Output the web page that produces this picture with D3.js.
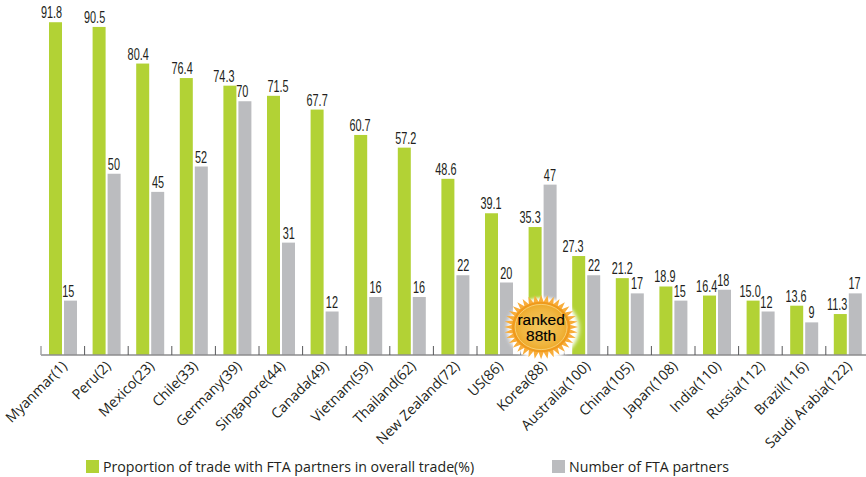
<!DOCTYPE html>
<html>
<head>
<meta charset="utf-8">
<script src="https://cdn.jsdelivr.net/npm/d3@7"></script>
<style>
  html, body { margin: 0; padding: 0; background: #fff; }
  svg { display: block; }
  text { fill: #231f20; }
  .tick-label, .legend-label { font-family: "Open Sans", sans-serif; }
  .value-label { font-family: "Liberation Sans", sans-serif; font-size: 16.5px; text-anchor: middle; }
</style>
</head>
<body>
<svg id="chart" width="866" height="477"></svg>
<script>
const categories = ["Myanmar(1)", "Peru(2)", "Mexico(23)", "Chile(33)", "Germany(39)", "Singapore(44)", "Canada(49)", "Vietnam(59)", "Thailand(62)", "New Zealand(72)", "US(86)", "Korea(88)", "Australia(100)", "China(105)", "Japan(108)", "India(110)", "Russia(112)", "Brazil(116)", "Saudi Arabia(122)"];
const tradeShare = [91.8, 90.5, 80.4, 76.4, 74.3, 71.5, 67.7, 60.7, 57.2, 48.6, 39.1, 35.3, 27.3, 21.2, 18.9, 16.4, 15.0, 13.6, 11.3];
const tradeLabels = ["91.8", "90.5", "80.4", "76.4", "74.3", "71.5", "67.7", "60.7", "57.2", "48.6", "39.1", "35.3", "27.3", "21.2", "18.9", "16.4", "15.0", "13.6", "11.3"];
const partners = [15, 50, 45, 52, 70, 31, 12, 16, 16, 22, 20, 47, 22, 17, 15, 18, 12, 9, 17];
const legendNames = ["Proportion of trade with FTA partners in overall trade(%)", "Number of FTA partners"];

const GREEN = "#b2d235";
const GRAY = "#bbbcbf";
const BASE_Y = 355;
const BAR_W = 13;
const NARROW = 0.66; // no condensed font here, so squeeze the value labels

// the labels were placed by hand in the original, so they drift off the bar centres
const tradeNudge = [-4, -4.5, -4.5, -4.2, -6, 4.5, 0, -0.7, 1.5, -2, -0.5, -5, -5.7, 0, -1, -2.8, -3, -0.7, -3.2];
const partnerNudge = [-2, 0, 0.5, 0, -2.5, 0.5, 0, 0, 0, 0.5, 0, 0, 0.5, 0, -1, -1, -1.5, 0, -0.5];

const svg = d3.select("#chart");
const defs = svg.append("defs");

const x = d3.scaleBand().domain(categories).range([41, 41 + 43.6 * 19]);
const y = d3.scaleLinear().domain([0, 100]).range([BASE_Y, BASE_Y - 362.5]);

// bars
const drawBars = (values, color, offset) => {
  svg.append("g")
    .selectAll("rect")
    .data(values)
    .enter()
    .append("rect")
    .attr("x", (d, i) => x(categories[i]) + offset)
    .attr("y", (d) => y(d))
    .attr("width", BAR_W)
    .attr("height", (d) => y(0) - y(d))
    .attr("fill", color);
};
drawBars(tradeShare, GREEN, 8);
drawBars(partners, GRAY, 23);

// value labels
const drawValues = (values, labels, offset, nudge) => {
  svg.append("g")
    .selectAll("text")
    .data(values)
    .enter()
    .append("text")
    .attr("class", "value-label")
    .attr("transform", (d, i) => `translate(${x(categories[i]) + offset + nudge[i]},${y(d) - 4}) scale(${NARROW},1)`)
    .text((d, i) => labels[i]);
};
drawValues(tradeShare, tradeLabels, 14.5, tradeNudge);
drawValues(partners, partners.map(String), 29.3, partnerNudge);

// axis, ticks sit on the band edges
const axis = svg.append("g");
axis.append("line")
  .attr("x1", x.range()[0])
  .attr("x2", 866)
  .attr("y1", BASE_Y)
  .attr("y2", BASE_Y)
  .attr("stroke", "#8c8c8e")
  .attr("stroke-width", 1.5);
axis.selectAll(".edge")
  .data(categories)
  .enter()
  .append("line")
  .attr("x1", (d) => x(d))
  .attr("x2", (d) => x(d))
  .attr("y1", BASE_Y - 9)
  .attr("y2", BASE_Y)
  .attr("stroke", (d, i) => (i === 0 ? "#a5a5a7" : "#58595b"))
  .attr("stroke-width", (d, i) => (i === 0 ? 1.5 : 1));

// rotated category labels
svg.append("g")
  .selectAll("text")
  .data(categories)
  .enter()
  .append("text")
  .attr("class", "tick-label")
  .attr("font-size", 14.2)
  .attr("text-anchor", "end")
  .attr("transform", (d) => `translate(${x(d) + 27},${BASE_Y + 12}) rotate(-45)`)
  .text((d) => d);

// "ranked 88th" badge on the Korea group
const badgeX = x("Korea(88)") + 20.5;
const badgeY = y(0) - 28;
const sunGrad = defs.append("radialGradient").attr("id", "sun-fill");
sunGrad.append("stop").attr("offset", "0%").attr("stop-color", "#f3c75e");
sunGrad.append("stop").attr("offset", "75%").attr("stop-color", "#f0b640");
sunGrad.append("stop").attr("offset", "100%").attr("stop-color", "#eeab2c");
const blur = defs.append("filter").attr("id", "sun-glow");
blur.append("feGaussianBlur").attr("stdDeviation", 2);

const rays = d3.range(72).map((i) => [
  (i / 72) * 2 * Math.PI,
  i % 2 === 0 ? 37 : 29,
]);
const rayPath = d3.lineRadial().curve(d3.curveLinearClosed);
const badge = svg.append("g").attr("transform", `translate(${badgeX},${badgeY})`);
const sun = badge.append("g").attr("transform", "scale(1,0.87)");
sun.append("circle").attr("cx", 2).attr("cy", 2).attr("r", 36).attr("fill", "#fff").attr("filter", "url(#sun-glow)");
sun.append("path").attr("d", rayPath(rays)).attr("fill", "#f8ad3a");
sun.append("circle").attr("r", 29).attr("fill", "#f09a1c");
sun.append("circle").attr("r", 26).attr("fill", "url(#sun-fill)").attr("stroke", "#f8d277").attr("stroke-width", 1);
badge.append("text")
  .attr("text-anchor", "middle")
  .attr("font-family", "Liberation Sans, sans-serif")
  .attr("font-size", 15.5)
  .style("fill", "#000")
  .attr("stroke", "#000")
  .attr("stroke-width", 0.15)
  .selectAll("tspan")
  .data(["ranked", "88th"])
  .enter()
  .append("tspan")
  .attr("x", 0)
  .attr("y", (d, i) => -2 + i * 16)
  .text((d) => d);

// legend
const legendX = [86, 552];
const legendColors = [GREEN, GRAY];
const legend = svg.append("g")
  .selectAll("g")
  .data(legendNames)
  .enter()
  .append("g")
  .attr("transform", (d, i) => `translate(${legendX[i]},460)`);
legend.append("rect")
  .attr("width", 13)
  .attr("height", 13)
  .attr("fill", (d, i) => legendColors[i]);
legend.append("text")
  .attr("class", "legend-label")
  .attr("x", 17)
  .attr("y", 12)
  .attr("font-size", 14.2)
  .text((d) => d);
</script>
</body>
</html>
